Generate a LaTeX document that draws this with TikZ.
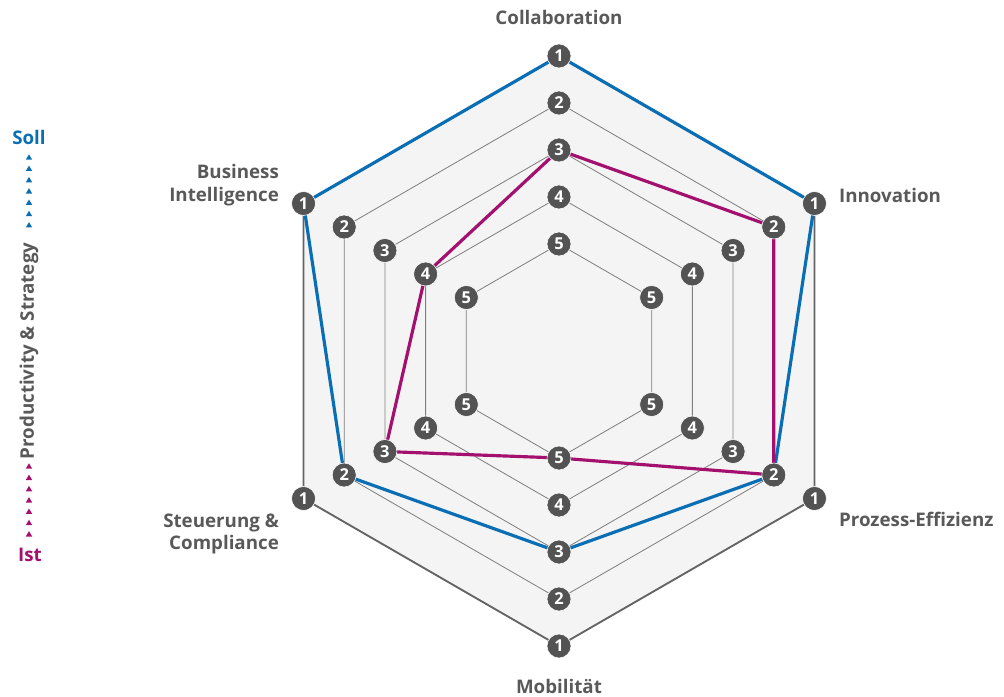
\documentclass[tikz,border=0pt]{standalone}
\usepackage{fontspec}
\setmainfont{Open Sans}
\usetikzlibrary{positioning}

\definecolor{soll}{HTML}{0A6EB4}
\definecolor{ist}{HTML}{A3106E}
\definecolor{txtgray}{HTML}{595959}
\definecolor{dotgray}{HTML}{535353}
\definecolor{bggray}{HTML}{F4F4F4}

\begin{document}
\begin{tikzpicture}[x=0.03cm, y=0.03cm,
  lvl/.style={circle, fill=dotgray, draw=white, line width=0.5pt, inner sep=0pt,
    minimum size=0.72cm, text=white, font=\bfseries\fontsize{14}{14}\selectfont},
  axlabel/.style={text=txtgray, font=\bfseries\fontsize{16}{19.5}\selectfont},
  ring/.style={gray, line width=0.7pt},
]

\useasboundingbox (-559,-345) rectangle (445,351);

% axes: Collaboration, Innovation, Prozess-Effizienz, Mobilitaet, Steuerung, BI
\foreach \a [count=\i] in {90,30,-30,-90,210,150}
  \foreach \l in {1,...,5}
    \coordinate (p\i-\l) at (\a:{295-47*(\l-1)});

\fill[bggray] (p1-1) -- (p2-1) -- (p3-1) -- (p4-1) -- (p5-1) -- (p6-1) -- cycle;
\foreach \l in {2,...,5}
  \draw[ring] (p1-\l) -- (p2-\l) -- (p3-\l) -- (p4-\l) -- (p5-\l) -- (p6-\l) -- cycle;
\draw[dotgray!90, line width=1.6pt] (p1-1) -- (p2-1) -- (p3-1) -- (p4-1) -- (p5-1) -- (p6-1) -- cycle;

% soll / ist
\draw[soll, line width=2.7pt, line join=round]
  (p1-1) -- (p2-1) -- (p3-2) -- (p4-3) -- (p5-2) -- (p6-1) -- cycle;
\draw[ist, line width=2.7pt, line join=round]
  (p1-3) -- (p2-2) -- (p3-2) -- (p4-5) -- (p5-3) -- (p6-4) -- cycle;

\foreach \i in {1,...,6}
  \foreach \l in {1,...,5}
    \node[lvl] (m\i-\l) at (p\i-\l) {\l};

% axis labels
\node[axlabel] (collab) at (0,334) {Collaboration};
\node[axlabel, anchor=west] (innov) at (276,156) {Innovation};
\node[axlabel, anchor=west] (prozess) at (276,-168) {Prozess-Effizienz};
\node[axlabel] (mobil) at (0,-335) {Mobilität};
\node[axlabel, anchor=east, align=right] (steuer) at (-276,-183) {Steuerung \&\\Compliance};
\node[axlabel, anchor=east, align=right] (bi) at (-276,166) {Business\\Intelligence};

% left scale
\node[axlabel, text=soll] (soll) at (-530,214) {Soll};
\node[axlabel, text=ist] (ist) at (-529,-204) {Ist};
\node[axlabel, rotate=90] (prod) at (-530,0) {Productivity \& Strategy};
\foreach \k in {0,...,6} {
  \fill[soll] (-530,126+11.3*\k) ++(-3.2,-2.5) -- ++(6.4,0) -- ++(-3.2,5.4) -- cycle;
  \fill[ist] (-530,-183+11.3*\k) ++(-3.2,-2.5) -- ++(6.4,0) -- ++(-3.2,5.4) -- cycle;
}

\end{tikzpicture}
\end{document}
